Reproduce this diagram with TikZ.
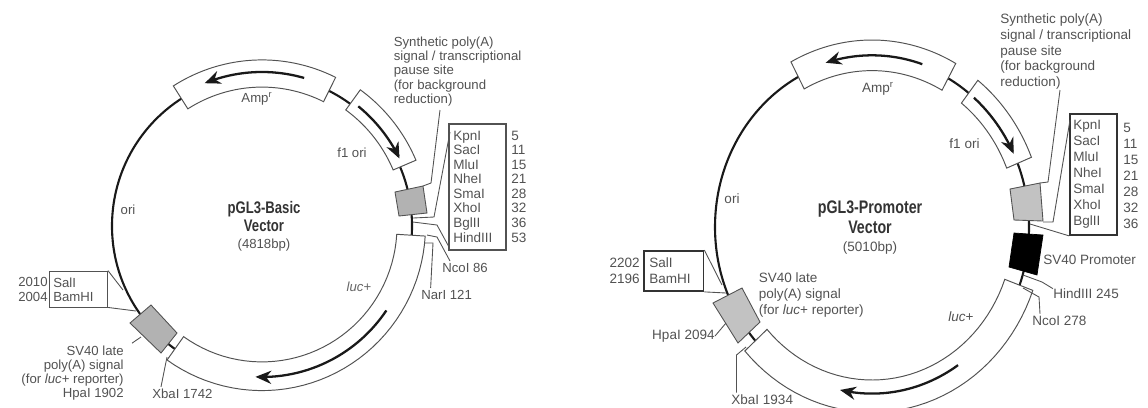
\documentclass[tikz,border=0pt]{standalone}
\usepackage{fontspec}
\setmainfont{Liberation Sans}
\usepackage{xcolor}
\usepackage{graphicx}
\usepackage{tikz}
\usetikzlibrary{arrows.meta,positioning,calc}
\colorlet{inkgray}{black!68}
\newcommand{\ringband}[4]{\draw[bandline] plot[domain=#1:#2,samples=40] ({\rx*#3*cos(\x)},{-\ry*#3*sin(\x)}) -- plot[domain=#2:#1,samples=40] ({\rx*#4*cos(\x)},{-\ry*#4*sin(\x)}) -- cycle;}
\newcommand{\ringarrow}[3]{\draw[flowarrow] plot[domain=#1:#2,samples=30] ({\rx*#3*cos(\x)},{-\ry*#3*sin(\x)});}
\newcommand{\narrowtitle}[1]{\scalebox{0.9}[1.15]{#1}}
\tikzset{
  bandline/.style={draw=inkgray, line width=0.55pt, fill=white},
  flowarrow/.style={line width=1.3pt, black!90, -{Stealth[length=9pt,width=7.5pt]}},
  ringline/.style={line width=1.2pt, black!90},
  graybox/.style={draw=inkgray, line width=0.5pt, fill=black!30},
  leader/.style={inkgray, line width=0.5pt},
  label/.style={font=\fontsize{7.5}{8.1}\selectfont, text=inkgray, inner sep=0pt},
  rlabel/.style={font=\fontsize{7.7}{9.07}\selectfont, text=inkgray, inner sep=0pt},
  titlelabel/.style={font=\fontsize{8.3}{9}\selectfont\bfseries, text=black!80, inner sep=0pt},
}
\begin{document}
\begin{tikzpicture}[x=0.02cm, y=-0.02cm]
\useasboundingbox (0,0) rectangle (1148,407);
\clip (0,0) rectangle (1148,407);

% Basic vector ring
\begin{scope}[shift={(262,226)}]
\def\rx{150}\def\ry{151}
\draw[ringline] (0,0) ellipse [x radius=150, y radius=151];
\ringband{63.5}{122.5}{0.92}{1.10}
\ringband{23}{54}{0.95}{1.115}
\ringband{-125.5}{-3.5}{0.90}{1.09}
\ringarrow{74}{112}{1.02}
\ringarrow{51}{26}{1.02}
\ringarrow{-34}{-92.5}{1.0}
\end{scope}
\draw[graybox] (395,192) -- (423,186) -- (427,213) -- (399,216) -- cycle;
\draw[graybox] (130,323) -- (151,305) -- (177,333) -- (161,353) -- cycle;

% Basic vector labels
\node[label, anchor=west, align=left] (synA) at (393.5,71.5) {Synthetic poly(A)\\signal / transcriptional\\pause site\\(for background\\reduction)};
\node[label] (ampA) at (257,99) {Amp\textsuperscript{r}};
\node[label] (f1A) at (352,153) {f1 ori};
\node[label] (oriA) at (128,210) {ori};
\node[label, text=black!60] (lucA) at (359,287) {\textit{luc}+};
\node[titlelabel] (titleA) at (264,209) {\narrowtitle{pGL3-Basic}};
\node[titlelabel] (vecA) at (264,226) {\narrowtitle{Vector}};
\node[label] (sizeA) at (264,245) {(4818bp)};
\node[label, anchor=east, align=right] (svA) at (124,373) {SV40 late\\poly(A) signal\\(for \textit{luc}+ reporter)\\HpaI 1902};
\node[label, anchor=west] (xbaA) at (152,394) {XbaI 1742};
\node[label, anchor=west] (ncoA) at (442,268) {NcoI 86};
\node[label, anchor=west] (narA) at (421,295) {NarI 121};

% Basic vector site boxes
\node[draw=inkgray, line width=0.8pt, minimum width=1.14cm, minimum height=2.52cm, inner sep=0pt] (kboxA) at (477.5,187) {};
\node[label, anchor=west, align=left, font=\fontsize{7.7}{8.3}\selectfont] (kpnA) at (453,186.5) {KpnI\\SacI\\MluI\\NheI\\SmaI\\XhoI\\BglII\\HindIII};
\node[label, anchor=west, align=left, font=\fontsize{7.7}{8.3}\selectfont] (numA) at (511,186.5) {5\\11\\15\\21\\28\\32\\36\\53};
\node[draw=inkgray, line width=0.5pt, minimum width=1.16cm, minimum height=0.72cm, inner sep=0pt] (sboxA) at (78.5,289) {};
\node[label, anchor=west, align=left] (salA) at (53,289.5) {SalI\\BamHI};
\node[label, anchor=east, align=right] (snumA) at (48,289.5) {2010\\2004};

% Basic vector leaders
\coordinate (a1) at (431,183); \coordinate (a2) at (423,186);
\coordinate (a3) at (450,132); \coordinate (a4) at (434,217); \coordinate (a5) at (413,218);
\coordinate (a6) at (449,247); \coordinate (a7) at (437,225); \coordinate (a8) at (413,222);
\coordinate (a9) at (437,237); \coordinate (a10) at (427,235);
\coordinate (a11) at (433,243); \coordinate (a12) at (425,243);
\coordinate (a13) at (123,290); \coordinate (a14) at (136,311);
\coordinate (a15) at (141,337); \coordinate (a16) at (167,357);
\draw[leader] (440,110) -- (a1) -- (a2);
\draw[leader] (a3) -- (a4) -- (a5);
\draw[leader] (a6) -- (a7) -- (a8);
\draw[leader] (ncoA.north west) ++(8,-2) -- (a9) -- (a10);
\draw[leader] (narA.north) ++(-16,-2) -- (a11) -- (a12);
\draw[leader] (sboxA.north east) -- (a13);
\draw[leader] (sboxA.south east) -- (a14);
\draw[leader] (svA.north east) ++(8,-2) -- (a15);
\draw[leader] (xbaA.north west) ++(9,-2) -- (a16);

% Promoter vector ring
\begin{scope}[shift={(872,227)}]
\def\rx{157}\def\ry{170}
\draw[ringline] (0,0) ellipse [x radius=157, y radius=170];
\ringband{61}{118}{0.92}{1.10}
\ringband{22}{52}{0.925}{1.095}
\ringband{-138}{-20}{0.90}{1.09}
\ringarrow{71.5}{107}{1.01}
\ringarrow{49.5}{25.5}{1.0}
\ringarrow{-56}{-102}{0.98}
\end{scope}
\draw[graybox, fill=black!24] (1010,189) -- (1040,183) -- (1043,221) -- (1014,220) -- cycle;
\draw[graybox, fill=black!24] (713,303) -- (742,288) -- (760,322) -- (738,343) -- cycle;
\draw[fill=black] (1014,233) -- (1043,235) -- (1037,275) -- (1009,267) -- cycle;

% Promoter vector labels
\node[rlabel, anchor=west, align=left] (synB) at (1000,51.5) {Synthetic poly(A)\\signal / transcriptional\\pause site\\(for background\\reduction)};
\node[rlabel] (ampB) at (878,89) {Amp\textsuperscript{r}};
\node[rlabel] (f1B) at (964.5,144) {f1 ori};
\node[rlabel] (oriB) at (732,199) {ori};
\node[rlabel] (lucB) at (961,317) {\textit{luc}+};
\node[titlelabel, font=\fontsize{9}{10}\selectfont\bfseries] (titleB) at (870,209) {\narrowtitle{pGL3-Promoter}};
\node[titlelabel, font=\fontsize{9}{10}\selectfont\bfseries] (vecB) at (870,227) {\narrowtitle{Vector}};
\node[rlabel] (sizeB) at (870,248) {(5010bp)};
\node[rlabel, anchor=west, align=left] (svB) at (758.5,295) {SV40 late\\poly(A) signal\\(for \textit{luc}+ reporter)};
\node[rlabel, anchor=west] (promB) at (1043,260) {SV40 Promoter};
\node[rlabel, anchor=west] (hinB) at (1053,294) {HindIII 245};
\node[rlabel, anchor=west] (ncoB) at (1032,321) {NcoI 278};
\node[rlabel, anchor=east] (hpaB) at (715,336) {HpaI 2094};
\node[rlabel, anchor=west] (xbaB) at (731,400) {XbaI 1934};

% Promoter vector site boxes
\node[draw=black!80, line width=1pt, minimum width=0.94cm, minimum height=2.42cm, inner sep=0pt] (kboxB) at (1093.5,174.5) {};
\node[rlabel, anchor=west, align=left] (kpnB) at (1073,174) {KpnI\\SacI\\MluI\\NheI\\SmaI\\XhoI\\BglII};
\node[rlabel, anchor=west, align=left] (numB) at (1123,176) {5\\11\\15\\21\\28\\32\\36};
\node[draw=black!80, line width=1pt, minimum width=1.19cm, minimum height=0.8cm, inner sep=0pt] (sboxB) at (673.75,271) {};
\node[rlabel, anchor=west, align=left] (salB) at (649,271) {SalI\\BamHI};
\node[rlabel, anchor=east, align=right] (snumB) at (640,271) {2202\\2196};

% Promoter vector leaders
\coordinate (b1) at (1048,182); \coordinate (b2) at (1040,183);
\coordinate (b3) at (1070,120); \coordinate (b4) at (1053,222); \coordinate (b5) at (1043,222);
\coordinate (b6) at (1030,224);
\coordinate (b7) at (1042,282); \coordinate (b8) at (1023,275);
\coordinate (b9) at (1039,297); \coordinate (b10) at (1023,288);
\coordinate (b11) at (722,285); \coordinate (b12) at (726,293);
\coordinate (b13) at (726,323);
\coordinate (b14) at (736.5,355); \coordinate (b15) at (746,347);
\draw[leader] (1060,90) -- (b1) -- (b2);
\draw[leader] (b3) -- (b4) -- (b5);
\draw[leader] (kboxB.south west) -- (b6);
\draw[leader] (hinB.north west) -- (b7) -- (b8);
\draw[leader] (ncoB.north west) ++(8,-2) -- (b9) -- (b10);
\draw[leader] (sboxB.north east) -- (b11);
\draw[leader] (sboxB.south east) -- (b12);
\draw[leader] (hpaB.east) -- (b13);
\draw[leader] (xbaB.north west) ++(5.5,-2) -- (b14) -- (b15);
\end{tikzpicture}
\end{document}
